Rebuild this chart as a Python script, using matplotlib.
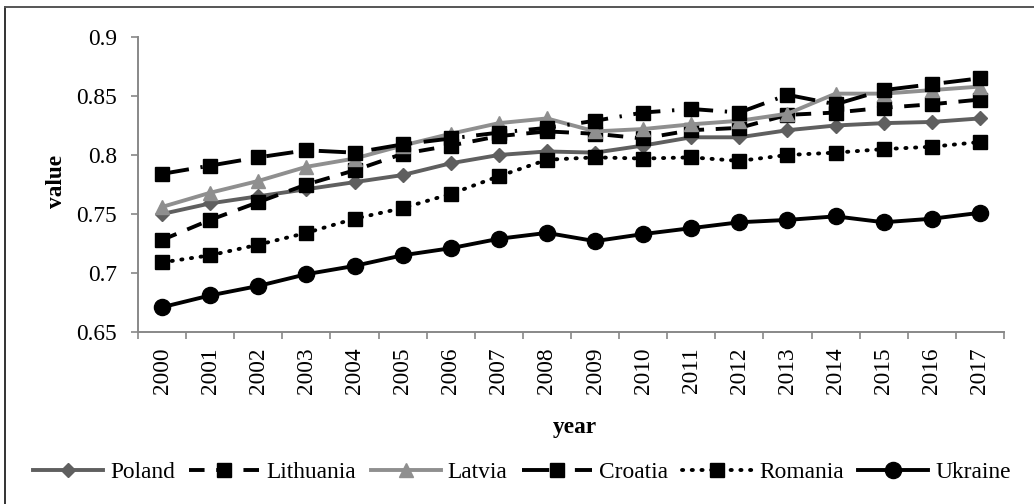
import matplotlib
matplotlib.use("Agg")
import matplotlib.pyplot as plt
from matplotlib.lines import Line2D
import numpy as np

years = [str(y) for y in range(2000, 2018)]
poland    = [0.750, 0.759, 0.765, 0.771, 0.777, 0.783, 0.793, 0.800, 0.803, 0.802, 0.808, 0.815, 0.815, 0.821, 0.825, 0.827, 0.828, 0.831]
lithuania = [0.728, 0.745, 0.760, 0.775, 0.787, 0.801, 0.808, 0.816, 0.820, 0.818, 0.814, 0.821, 0.823, 0.834, 0.836, 0.840, 0.843, 0.847]
latvia    = [0.756, 0.768, 0.778, 0.790, 0.797, 0.808, 0.818, 0.827, 0.831, 0.820, 0.822, 0.826, 0.829, 0.835, 0.852, 0.852, 0.855, 0.858]
croatia   = [0.784, 0.791, 0.798, 0.804, 0.802, 0.809, 0.814, 0.819, 0.823, 0.829, 0.836, 0.839, 0.836, 0.851, 0.843, 0.855, 0.860, 0.865]
romania   = [0.709, 0.715, 0.724, 0.734, 0.746, 0.755, 0.767, 0.782, 0.796, 0.798, 0.797, 0.798, 0.795, 0.800, 0.802, 0.805, 0.807, 0.811]
ukraine   = [0.671, 0.681, 0.689, 0.699, 0.706, 0.715, 0.721, 0.729, 0.734, 0.727, 0.733, 0.738, 0.743, 0.745, 0.748, 0.743, 0.746, 0.751]
series_names = ["Poland", "Lithuania", "Latvia", "Croatia", "Romania", "Ukraine"]
yticks = [0.65, 0.7, 0.75, 0.8, 0.85, 0.9]

plt.rcParams['font.family'] = ['Liberation Serif', 'DejaVu Serif']
FS = 16.8

W, H = 1034, 504
fig = plt.figure(figsize=(W / 100, H / 100), dpi=100)
ax = fig.add_axes([138 / W, 1 - 332 / H, (1004 - 138) / W, (332 - 37) / H])

x = np.arange(len(years))
lw = 2.8
styles = [
    dict(data=poland, color='#5f5f5f', ls='-', marker='D', ms=7.2),
    dict(data=lithuania, color='black', ls=(0, (4, 3)), marker='s', ms=9.6),
    dict(data=latvia, color='#8f8f8f', ls='-', marker='^', ms=10.5),
    dict(data=croatia, color='black', ls=(0, (7, 3, 0.6, 3)), marker='s', ms=9.6),
    dict(data=romania, color='black', ls=(0, (0.3, 2.2)), marker='s', ms=9.6),
    dict(data=ukraine, color='black', ls='-', marker='o', ms=11.6),
]
handles = []
for i, (name, st) in enumerate(zip(series_names, styles)):
    h, = ax.plot(x, st['data'], color=st['color'], linestyle=st['ls'], lw=lw,
                 marker=st['marker'], ms=st['ms'], mfc=st['color'], mec=st['color'],
                 dash_capstyle='round' if name == 'Romania' else 'butt',
                 label=name, zorder=3 + i)
    handles.append(h)

ax.set_xlim(-0.5, len(years) - 0.5)
ax.set_ylim(0.65, 0.9)
ax.set_yticks(yticks)
ax.set_yticklabels([f"{v:g}" for v in yticks], fontsize=FS)

ax.set_xticks(np.arange(-0.5, len(years), 1.0))
ax.set_xticklabels([])
ax.set_xticks(x, minor=True)
ax.set_xticklabels(years, minor=True, rotation=90, fontsize=FS)
ax.tick_params(axis='x', which='major', length=5, width=1.2, color='#888888', direction='out')
ax.tick_params(axis='x', which='minor', length=0, pad=11)
ax.tick_params(axis='y', length=5, width=1.2, color='#888888', direction='out', pad=10)

for s in ['top', 'right']:
    ax.spines[s].set_visible(False)
for s in ['left', 'bottom']:
    ax.spines[s].set_color('#888888')
    ax.spines[s].set_linewidth(1.4)

fig.text(57 / W, 1 - 181 / H, 'value', rotation=90, ha='center', va='center',
         fontsize=FS, fontweight='bold')
fig.text(575 / W, 1 - 428 / H, 'year', ha='center', va='center',
         fontsize=FS, fontweight='bold')

leg = fig.legend(handles=handles, loc='center', bbox_to_anchor=(522 / W, 1 - 472 / H),
                 ncol=6, frameon=False, fontsize=FS, handlelength=3.0,
                 handletextpad=0.3, columnspacing=0.62, borderaxespad=0, borderpad=0)

# outer frame (top and left edges visible)
fig.add_artist(Line2D([5 / W, 5 / W], [0, 1 - 7 / H], transform=fig.transFigure,
                      color='#333333', lw=1.4))
fig.add_artist(Line2D([5 / W, 1], [1 - 7 / H, 1 - 7 / H], transform=fig.transFigure,
                      color='#555555', lw=1.4))

fig.savefig('out.png', dpi=100)
